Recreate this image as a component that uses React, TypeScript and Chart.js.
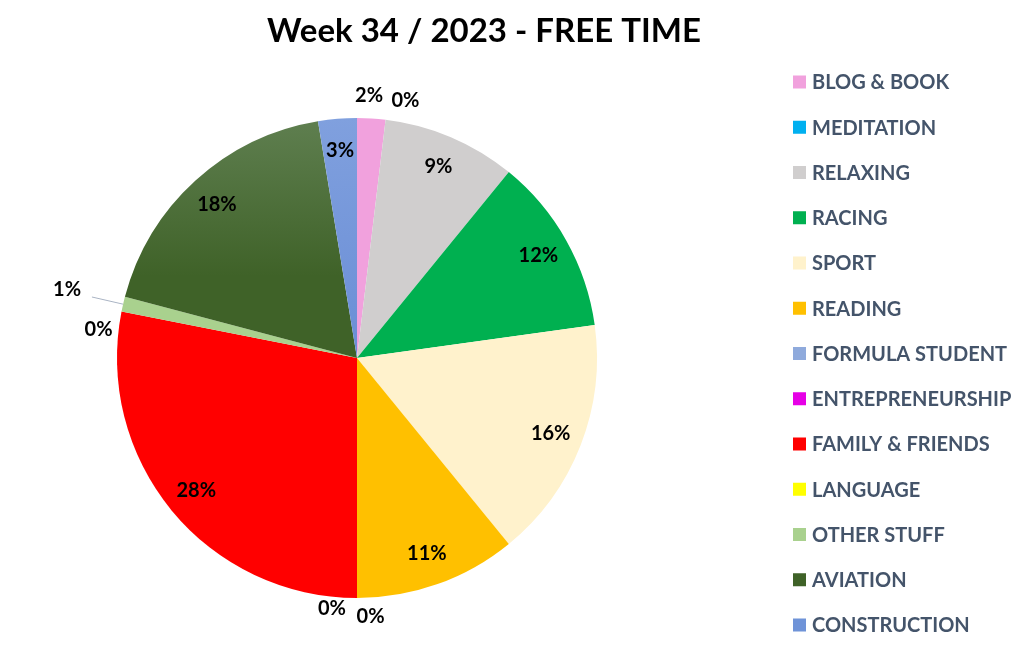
import React, { useEffect, useRef } from "react";
import { Chart, registerables } from "chart.js";

Chart.register(...registerables);

const TITLE = "Week 34 / 2023 - FREE TIME";

const CATEGORIES = [
  "BLOG & BOOK",
  "MEDITATION",
  "RELAXING",
  "RACING",
  "SPORT",
  "READING",
  "FORMULA STUDENT",
  "ENTREPRENEURSHIP",
  "FAMILY & FRIENDS",
  "LANGUAGE",
  "OTHER STUFF",
  "AVIATION",
  "CONSTRUCTION",
];

// share of free time (%)
const SHARES = [1.9, 0, 9.0, 11.9, 16.3, 10.9, 0, 0, 28.1, 0, 1.0, 18.3, 2.6];

const COLORS = [
  "#f1a1dd",
  "#00b0f0",
  "#d0cece",
  "#00b050",
  "#fff2cc",
  "#ffc000",
  "#8faadc",
  "#e600e6",
  "#ff0000",
  "#ffff00",
  "#a9d18e",
  "#3f6228",
  "#6f93d8",
];

// vertical gradients for some slices (top colour -> bottom colour)
const GRADIENTS: Record<number, { from: string; to: string; span: number }> = {
  11: { from: "#5f7f50", to: "#3f6228", span: 0.33 },
  12: { from: "#80a0de", to: "#6a8ed6", span: 0.5 },
};

// placement of labels drawn outside the pie: angle shift (deg), distance beyond rim (px)
const OUTSIDE_LABELS: Record<number, { dA: number; dist: number; leader?: number }> = {
  0: { dA: -0.8, dist: 23 },
  1: { dA: 3.8, dist: 22 },
  6: { dA: -3, dist: 19 },
  7: { dA: 5.7, dist: 12 },
  9: { dA: -4.8, dist: 20 },
  10: { dA: 0.4, dist: 58, leader: 32 },
};

const FONT = "Lato, 'Open Sans', sans-serif";

const overlayPlugin = {
  id: "overlay",
  afterDraw(chart: any) {
    const ctx: CanvasRenderingContext2D = chart.ctx;
    ctx.save();

    // Title
    ctx.font = `bold 33px ${FONT}`;
    ctx.fillStyle = "#000000";
    ctx.textAlign = "center";
    ctx.textBaseline = "middle";
    ctx.fillText(TITLE, 484, 31);

    // Legend
    const labels: string[] = chart.data.labels;
    const legendX = 793;
    const legendY0 = 82;
    const legendStep = 45.25;
    ctx.font = `bold 20px ${FONT}`;
    ctx.textAlign = "left";
    labels.forEach((lab, i) => {
      const y = legendY0 + i * legendStep;
      ctx.fillStyle = COLORS[i];
      ctx.fillRect(legendX, y - 6.5, 13, 13);
      ctx.fillStyle = "#44546a";
      ctx.fillText(lab, legendX + 19, y + 1);
    });

    // Data labels
    const meta = chart.getDatasetMeta(0);
    const values: number[] = chart.data.datasets[0].data;
    const total = values.reduce((a, b) => a + b, 0);
    ctx.font = `bold 20px ${FONT}`;
    ctx.textAlign = "center";
    ctx.fillStyle = "#000000";
    meta.data.forEach((arc: any, i: number) => {
      const p = arc.getProps(["x", "y", "startAngle", "endAngle", "outerRadius"], true);
      const mid = (p.startAngle + p.endAngle) / 2;
      const txt = Math.round((values[i] / total) * 100) + "%";
      const out = OUTSIDE_LABELS[i];
      if (out) {
        const a = mid + (out.dA * Math.PI) / 180;
        const r = p.outerRadius + out.dist;
        if (out.leader) {
          ctx.strokeStyle = "#aab4c4";
          ctx.lineWidth = 1;
          ctx.beginPath();
          ctx.moveTo(p.x + p.outerRadius * Math.cos(mid), p.y + p.outerRadius * Math.sin(mid));
          const lr = p.outerRadius + out.leader;
          ctx.lineTo(p.x + lr * Math.cos(mid), p.y + lr * Math.sin(mid));
          ctx.stroke();
        }
        ctx.fillText(txt, p.x + r * Math.cos(a), p.y + r * Math.sin(a));
      } else {
        const r = p.outerRadius * 0.867;
        ctx.fillText(txt, p.x + r * Math.cos(mid), p.y + r * Math.sin(mid));
      }
    });
    ctx.restore();
  },
};

export default function App() {
  const canvasRef = useRef<HTMLCanvasElement | null>(null);

  useEffect(() => {
    if (!canvasRef.current) return;
    const chart = new Chart(canvasRef.current, {
      type: "pie",
      data: {
        labels: CATEGORIES,
        datasets: [
          {
            data: SHARES,
            backgroundColor: (c: any) => {
              const i = c.dataIndex;
              const g = GRADIENTS[i];
              const area = c.chart.chartArea;
              if (!g || !area) return COLORS[i];
              const grad = c.chart.ctx.createLinearGradient(0, area.top, 0, area.top + area.height * g.span);
              grad.addColorStop(0, g.from);
              grad.addColorStop(1, g.to);
              return grad;
            },
            borderWidth: 0,
          },
        ],
      },
      options: {
        responsive: false,
        animation: false,
        devicePixelRatio: 1,
        layout: { padding: { left: 117, right: 426, top: 118, bottom: 48 } },
        plugins: {
          legend: { display: false },
          title: { display: false },
          tooltip: { enabled: false },
        },
      },
      plugins: [overlayPlugin],
    });
    return () => chart.destroy();
  }, []);

  return (
    <div style={{ position: "absolute", left: 0, top: 0, width: 1023, height: 646, background: "#ffffff" }}>
      <canvas ref={canvasRef} width={1023} height={646} style={{ display: "block" }} />
    </div>
  );
}
